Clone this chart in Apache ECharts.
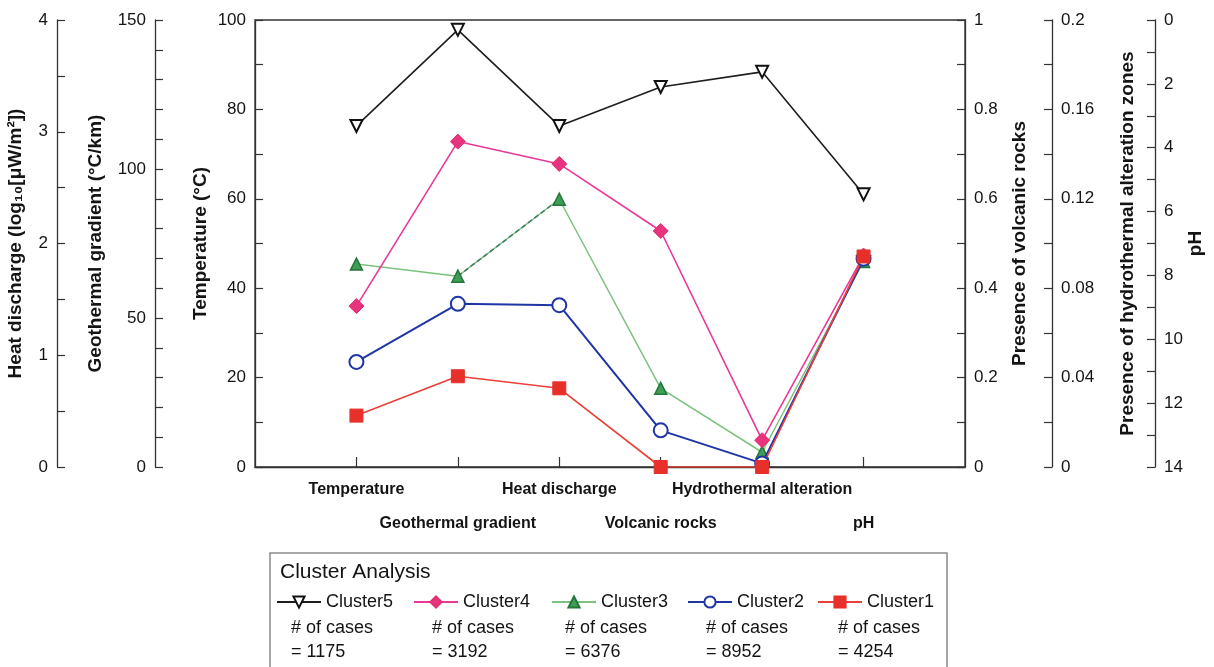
<!DOCTYPE html>
<html>
<head>
<meta charset="utf-8">
<script src="https://cdn.jsdelivr.net/npm/echarts@6/dist/echarts.min.js"></script>
<style>
  html, body { margin: 0; padding: 0; background: #ffffff; }
  #chart { width: 1214px; height: 667px; }
</style>
</head>
<body>
<div id="chart"></div>
<script>
// Parameters along the horizontal axis
const categories = ['Temperature', 'Geothermal gradient', 'Heat discharge', 'Volcanic rocks', 'Hydrothermal alteration', 'pH'];

// Cluster centroids, each parameter scaled to the 0–100 range of the shared plotting axis
// (each parameter is read against its own axis: °C, °C/km, log10 µW/m², fractions, pH)
const cluster5 = [76.3, 97.8, 76.3, 85.0, 88.4, 61.0];
const cluster4 = [36.0, 72.8, 67.8, 52.8, 6.0, 47.3];
const cluster3 = [45.4, 42.7, 59.9, 17.6, 3.3, 46.0];
const cluster2 = [23.5, 36.5, 36.2, 8.2, 0.8, 46.6];
const cluster1 = [11.5, 20.3, 17.6, 0.0, 0.0, 47.1];

const clusterNames = ['Cluster5', 'Cluster4', 'Cluster3', 'Cluster2', 'Cluster1'];
const caseCounts = [1175, 3192, 6376, 8952, 4254];

const FONT = 'Arial, "Liberation Sans", Helvetica, sans-serif';
const AXIS_COLOR = '#333333';
const TEXT_COLOR = '#141414';

const chart = echarts.init(document.getElementById('chart'), null, { renderer: 'canvas' });

function yAxisDef(extra) {
  return Object.assign({
    type: 'value',
    axisLine: { show: true, onZero: false, lineStyle: { color: AXIS_COLOR, width: 1.3 } },
    axisTick: { show: true, inside: true, length: 8, lineStyle: { color: AXIS_COLOR, width: 1.2 } },
    minorTick: { show: true, splitNumber: 2, length: 8, lineStyle: { color: AXIS_COLOR, width: 1.2 } },
    splitLine: { show: false },
    minorSplitLine: { show: false },
    axisLabel: { color: TEXT_COLOR, fontSize: 17, margin: 9, fontFamily: FONT },
    nameLocation: 'middle',
    nameRotate: 90,
    nameTextStyle: { color: TEXT_COLOR, fontSize: 19, fontWeight: 'bold', fontFamily: FONT }
  }, extra);
}

const yAxes = [
  // index 0: the plotting axis (Temperature)
  yAxisDef({ position: 'left', offset: 0, min: 0, max: 100, interval: 20, name: 'Temperature (°C)', nameGap: 45, nameMoveOverlap: false }),
  yAxisDef({ position: 'left', offset: 100, min: 0, max: 150, interval: 50, name: 'Geothermal gradient (°C/km)', nameGap: 50,
             minorTick: { show: true, splitNumber: 5, length: 8, lineStyle: { color: AXIS_COLOR, width: 1.2 } } }),
  yAxisDef({ position: 'left', offset: 198, min: 0, max: 4, interval: 1, name: 'Heat discharge (log₁₀[μW/m²])', nameGap: 32 }),
  yAxisDef({ position: 'right', offset: 0, min: 0, max: 1, interval: 0.2, name: 'Presence of volcanic rocks', nameGap: 45 }),
  yAxisDef({ position: 'right', offset: 87, min: 0, max: 0.2, interval: 0.04, name: 'Presence of hydrothermal alteration zones', nameGap: 66 }),
  yAxisDef({ position: 'right', offset: 190, min: 0, max: 14, interval: 2, inverse: true, name: 'pH', nameGap: 31, nameMoveOverlap: false })
];

const seriesStyles = {
  Cluster5: { line: '#1e1e1e', width: 1.6, symbol: 'triangle', rotate: 180, size: 12, fill: '#ffffff', border: '#111111', bw: 2 },
  Cluster4: { line: '#e8399a', width: 1.6, symbol: 'diamond', rotate: 0, size: 15, fill: '#e8337f', border: '#e0306f', bw: 1 },
  Cluster3: { line: '#7cc27e', width: 1.5, symbol: 'triangle', rotate: 0, size: 12, fill: '#3f9e55', border: '#26753a', bw: 1.5 },
  Cluster2: { line: '#1f35a6', width: 2, symbol: 'circle', rotate: 0, size: 14, fill: '#ffffff', border: '#1f35a6', bw: 2 },
  Cluster1: { line: '#ea4038', width: 1.6, symbol: 'rect', rotate: 0, size: 13, fill: '#e8302a', border: '#e8302a', bw: 1 }
};

const clusterValues = { Cluster5: cluster5, Cluster4: cluster4, Cluster3: cluster3, Cluster2: cluster2, Cluster1: cluster1 };

function toPoints(values) {
  return values.map(function (v, i) { return [i + 1, v]; });
}

const series = [];
clusterNames.forEach(function (name) {
  const s = seriesStyles[name];
  series.push({
    name: name,
    type: 'line',
    xAxisIndex: 0,
    yAxisIndex: 0,
    data: toPoints(clusterValues[name]),
    symbol: s.symbol,
    symbolSize: s.size,
    symbolRotate: s.rotate,
    showAllSymbol: true,
    lineStyle: { color: s.line, width: s.width },
    itemStyle: { color: s.fill, borderColor: s.border, borderWidth: s.bw },
    emphasis: { disabled: true },
    animation: false,
    z: name === 'Cluster3' ? 2 : 3
  });
  if (name === 'Cluster3') {
    // dashed stretch of the Cluster3 profile between the gradient and heat-discharge points
    series.push({
      name: 'Cluster3 dashed link',
      type: 'line',
      xAxisIndex: 0,
      yAxisIndex: 0,
      data: toPoints(cluster3).slice(1, 3),
      symbol: 'none',
      lineStyle: { color: '#3f7f6a', width: 1.5, type: [5, 3] },
      emphasis: { disabled: true },
      animation: false,
      z: 2
    });
  }
});

// One legend block per cluster, laid out in a single row inside the framed box
const legendLeft = [276, 413, 551, 687, 817];
const legends = clusterNames.map(function (name, i) {
  return {
    data: [name],
    left: legendLeft[i],
    top: 593,
    padding: 0,
    itemWidth: 44,
    itemHeight: 14,
    itemGap: 0,
    selectedMode: false,
    symbolRotate: 'inherit',
    textStyle: { color: TEXT_COLOR, fontSize: 18, fontFamily: FONT }
  };
});

const caseLeft = [291, 432, 565, 706, 838];
const graphics = [
  {
    type: 'rect',
    shape: { x: 270, y: 553, width: 677, height: 130 },
    style: { fill: 'none', stroke: '#8a8a8a', lineWidth: 1.5 },
    silent: true
  },
  {
    type: 'text',
    x: 280, y: 572,
    style: { text: 'Cluster Analysis', font: '21px ' + FONT, fill: TEXT_COLOR, verticalAlign: 'middle' },
    silent: true
  }
].concat(caseCounts.map(function (n, i) {
  return {
    type: 'text',
    x: caseLeft[i], y: 616,
    style: { text: '# of cases\n= ' + n, font: '18px ' + FONT, fill: TEXT_COLOR, lineHeight: 24, verticalAlign: 'top' },
    silent: true
  };
}));

chart.setOption({
  animation: false,
  backgroundColor: '#ffffff',
  grid: {
    left: 255, right: 249, top: 20, bottom: 200,
    outerBoundsMode: 'none',
    containLabel: false,
    show: true, borderColor: AXIS_COLOR, borderWidth: 1.3, backgroundColor: 'transparent'
  },
  xAxis: {
    type: 'value',
    min: 0, max: 7, interval: 1,
    axisLine: { show: true, onZero: false, lineStyle: { color: AXIS_COLOR, width: 1.3 } },
    axisTick: { show: true, inside: true, length: 10, lineStyle: { color: AXIS_COLOR, width: 1.2 } },
    splitLine: { show: false },
    axisLabel: {
      color: TEXT_COLOR, fontSize: 16, fontWeight: 'bold', fontFamily: FONT,
      margin: 6, lineHeight: 34,
      showMinLabel: false, showMaxLabel: false,
      formatter: function (v) {
        const label = categories[v - 1];
        if (!label) return '';
        return v % 2 === 0 ? '\n' + label : label;
      }
    }
  },
  yAxis: yAxes,
  legend: legends,
  series: series,
  graphic: graphics
});
</script>
</body>
</html>
